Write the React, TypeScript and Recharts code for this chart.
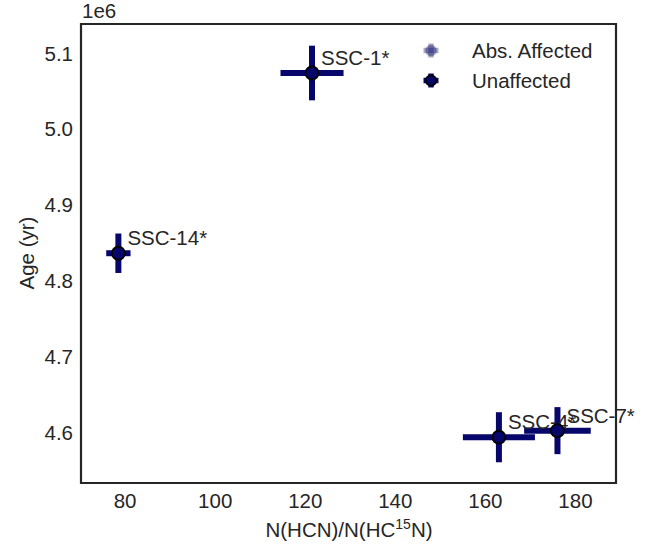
import React from 'react';
import { ScatterChart, Scatter, XAxis, YAxis, ErrorBar, ReferenceArea, Label } from 'recharts';

document.body.style.margin = '0';

// sources and their measured values
const names = ['SSC-1*', 'SSC-14*', 'SSC-4*', 'SSC-7*'];
const ratio = [121.5, 78.5, 163, 176];
const ratioErr = [7, 2.7, 8, 7.4];
const age = [5.074e6, 4.8365e6, 4.594e6, 4.6027e6];
const ageErr = [0.036e6, 0.026e6, 0.033e6, 0.031e6];

const xTicks = [80, 100, 120, 140, 160, 180];
const yTicks = [4.6e6, 4.7e6, 4.8e6, 4.9e6, 5.0e6, 5.1e6];
const xDomain = [70.2, 189];
const yDomain = [4.5337e6, 5.1386e6];

const NAVY = '#06066b';
const INK = '#262626';
const FONT = '"Liberation Sans", Arial, sans-serif';
const FS = 20.5;

const unaffected = names.map((name, i) => ({
  name,
  ratio: ratio[i],
  ratioErr: ratioErr[i],
  age: age[i],
  ageErr: ageErr[i],
}));

const PointShape = (props: any) => {
  const { cx, cy, payload } = props;
  return (
    <g>
      <circle cx={cx} cy={cy} r={6.5} fill={NAVY} stroke="#000" strokeWidth={1.8} />
      <text x={cx + 9} y={cy - 8} fontSize={FS} fill={INK} fontFamily={FONT}>
        {payload.name}
      </text>
    </g>
  );
};

const LegendIcon = ({ x, y, faded }: { x: number; y: number; faded?: boolean }) => {
  const a = faded ? 0.35 : 1;
  return (
    <g>
      <line x1={x - 7.5} x2={x + 7.5} y1={y} y2={y} stroke={NAVY} strokeOpacity={a} strokeWidth={5.5} />
      <line x1={x} x2={x} y1={y - 7} y2={y + 7} stroke={NAVY} strokeOpacity={a} strokeWidth={5.5} />
      <circle
        cx={x}
        cy={y}
        r={5.2}
        fill={NAVY}
        fillOpacity={a}
        stroke="#000"
        strokeOpacity={faded ? 0.15 : 1}
        strokeWidth={1.8}
      />
    </g>
  );
};

const App = () => {
  return (
    <div style={{ position: 'relative', width: 654, height: 549, fontFamily: FONT }}>
      <ScatterChart width={654} height={549} margin={{ top: 24, right: 38, bottom: 0, left: 0 }}>
        <XAxis
          type="number"
          dataKey="ratio"
          domain={xDomain}
          ticks={xTicks}
          axisLine={false}
          tickLine={false}
          tickSize={8}
          tickMargin={2}
          height={66}
          tick={{ fill: INK, fontSize: FS, fontFamily: FONT }}
        >
          <Label
            content={() => (
              <text x={349} y={537} textAnchor="middle" fontSize={FS} fill={INK} fontFamily={FONT}>
                N(HCN)/N(HC<tspan dy={-8} fontSize={14}>15</tspan>
                <tspan dy={8}>N)</tspan>
              </text>
            )}
          />
        </XAxis>
        <YAxis
          type="number"
          dataKey="age"
          domain={yDomain}
          ticks={yTicks}
          tickFormatter={(v: number) => (v / 1e6).toFixed(1)}
          axisLine={false}
          tickLine={false}
          tickSize={6}
          tickMargin={2}
          width={81}
          tick={{ fill: INK, fontSize: FS, fontFamily: FONT }}
        >
          <Label
            content={() => (
              <text
                x={26}
                y={253}
                transform="rotate(-90 26 253)"
                textAnchor="middle"
                dominantBaseline="central"
                fontSize={FS}
                fill={INK}
                fontFamily={FONT}
              >
                Age (yr)
              </text>
            )}
          />
        </YAxis>
        <ReferenceArea
          x1={xDomain[0]}
          x2={xDomain[1]}
          y1={yDomain[0]}
          y2={yDomain[1]}
          fill="none"
          fillOpacity={0}
          stroke={INK}
          strokeWidth={2.2}
          ifOverflow="visible"
        />
        <Scatter name="Unaffected" data={unaffected} shape={PointShape} isAnimationActive={false}>
          <ErrorBar dataKey="ratioErr" direction="x" width={0} stroke={NAVY} strokeWidth={6} />
          <ErrorBar dataKey="ageErr" direction="y" width={0} stroke={NAVY} strokeWidth={6} />
        </Scatter>
      </ScatterChart>
      <svg
        width={654}
        height={549}
        style={{ position: 'absolute', left: 0, top: 0, pointerEvents: 'none' }}
      >
        <text x={82} y={18} fontSize={FS} fill={INK} fontFamily={FONT}>
          1e6
        </text>
        <LegendIcon x={431} y={50.5} faded />
        <text x={472} y={58} fontSize={FS} fill={INK} fontFamily={FONT}>
          Abs. Affected
        </text>
        <LegendIcon x={431} y={80.5} />
        <text x={472} y={88} fontSize={FS} fill={INK} fontFamily={FONT}>
          Unaffected
        </text>
      </svg>
    </div>
  );
};

export default App;
